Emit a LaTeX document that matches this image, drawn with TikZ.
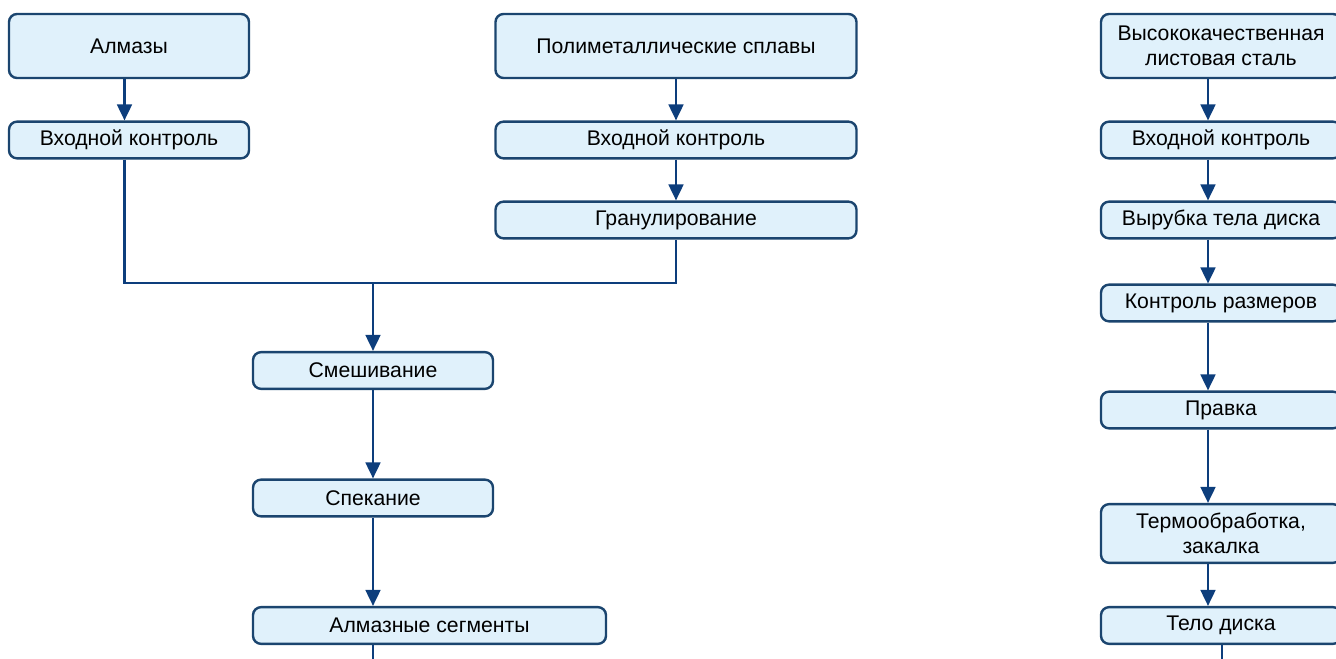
\documentclass[tikz,border=0pt]{standalone}
\usepackage{fontspec}
\setmainfont{Liberation Sans}
\usepackage{tikz}
\usetikzlibrary{arrows.meta}
\definecolor{boxfill}{HTML}{E0F1FB}
\definecolor{boxline}{HTML}{1B456F}
\definecolor{flow}{HTML}{0D3E7C}

\begin{document}
\begin{tikzpicture}[x=0.75pt, y=-0.75pt, font=\fontsize{15.9}{19}\selectfont,
    stage/.style={draw=boxline, fill=boxfill, line width=1.8pt, rounded corners=6pt,
        inner sep=0pt, align=center, minimum height=27.5pt},
    tall/.style={stage, minimum height=48pt},
    arr/.style={draw=flow, line width=2pt, -{Triangle[length=12pt, width=11pt]}},
    link/.style={draw=flow, line width=2pt}]
    \useasboundingbox (0,0) rectangle (1336,659);
    \clip (0,0) rectangle (1336,659);

    \node (almaz) [tall, minimum width=180pt] at (129, 46) {Алмазы};
    \node (vk1) [stage, minimum width=180pt] at (129, 140) {Входной контроль};
    \node (poly) [tall, minimum width=270.75pt] at (676, 46) {Полиметаллические сплавы};
    \node (vk2) [stage, minimum width=270.75pt] at (676, 140) {Входной контроль};
    \node (gran) [stage, minimum width=270.75pt] at (676, 220) {Гранулирование};
    \node (smesh) [stage, minimum width=180pt] at (373, 370.5) {Смешивание};
    \node (spek) [stage, minimum width=180pt] at (373, 498) {Спекание};
    \node (segm) [stage, minimum width=264.75pt] at (429.5, 625.5) {Алмазные сегменты};

    \node (steel) [tall, minimum width=180pt] at (1221, 46) {Высококачественная\\листовая сталь};
    \node (vk3) [stage, minimum width=180pt] at (1221, 140) {Входной контроль};
    \node (cut) [stage, minimum width=180pt] at (1221, 220) {Вырубка тела диска};
    \node (size) [stage, minimum width=180pt] at (1221, 303) {Контроль размеров};
    \node (edit) [stage, minimum width=180pt] at (1221, 410) {Правка};
    \node (heat) [stage, minimum width=180pt, minimum height=44pt] at (1221, 533.5) {Термообработка,\\закалка};
    \node (body) [stage, minimum width=180pt] at (1221, 625.5) {Тело диска};

    \coordinate (junc) at (373, 283);
    \coordinate (lx) at (124.5, 0);
    \coordinate (rx) at (1208, 0);
    \coordinate (segend) at (373, 670);
    \coordinate (bodyend) at (1222, 670);

    \draw[arr] (almaz.south -| lx) -- (vk1.north -| lx);
    \draw[arr] (poly) -- (vk2);
    \draw[arr] (vk2) -- (gran);
    \draw[link] (vk1.south -| lx) |- (junc) -| (gran.south);
    \draw[arr] (junc) -- (smesh);
    \draw[arr] (smesh) -- (spek);
    \draw[arr] (spek) -- (spek |- segm.north);
    \draw[link] (segm.south -| spek) -- (segend);

    \draw[arr] (steel.south -| rx) -- (vk3.north -| rx);
    \draw[arr] (vk3.south -| rx) -- (cut.north -| rx);
    \draw[arr] (cut.south -| rx) -- (size.north -| rx);
    \draw[arr] (size.south -| rx) -- (edit.north -| rx);
    \draw[arr] (edit.south -| rx) -- (heat.north -| rx);
    \draw[arr] (heat.south -| rx) -- (body.north -| rx);
    \draw[link] (body.south -| bodyend) -- (bodyend);
\end{tikzpicture}
\end{document}
